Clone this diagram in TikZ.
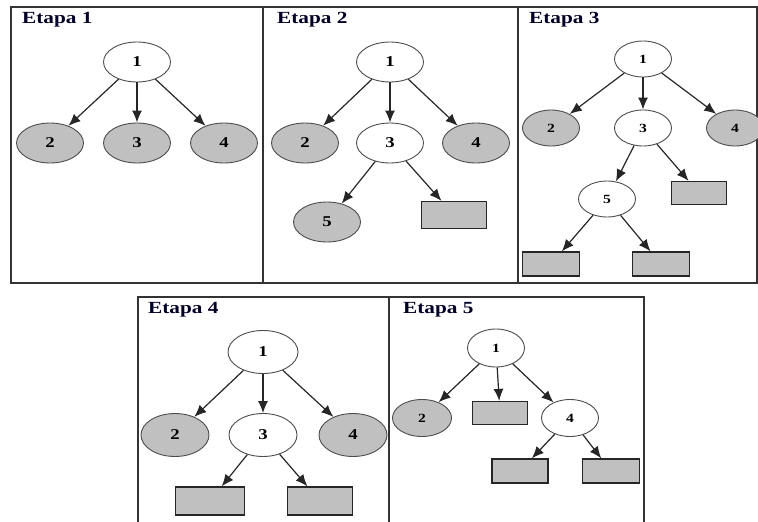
\documentclass[tikz,border=0pt]{standalone}
\usepackage{fontspec}
\usepackage{graphicx}
\setmainfont{Liberation Serif}
\usetikzlibrary{shapes.geometric,arrows.meta}

\definecolor{leafgray}{HTML}{C0C0C0}
\definecolor{framegray}{HTML}{333333}

% stretched bold labels
\newcommand\etapalabel[1]{\fontsize{17}{17}\selectfont\bfseries\scalebox{1.25}[1]{#1}}
\newcommand\stnumbig[1]{\fontsize{15}{15}\selectfont\bfseries\scalebox{1.25}[1]{#1}}
\newcommand\stnumsmall[1]{\fontsize{12.5}{12.5}\selectfont\bfseries\scalebox{1.25}[1]{#1}}

\tikzset{
  panelline/.style={draw=framegray, line width=1.4pt},
  title/.style={anchor=west, inner sep=0pt, text=black!85!blue},
  state/.style={ellipse, draw=black!70, line width=0.9pt, inner sep=0pt, fill=white},
  closed/.style={state, fill=leafgray},
  bigst/.style={minimum width=67pt, minimum height=40pt},
  smallst/.style={minimum width=57pt, minimum height=36pt},
  leaf/.style={rectangle, draw=black!85, line width=1.2pt, fill=leafgray, inner sep=0pt},
  edge/.style={-{Latex[length=12pt,width=10pt]}, line width=1.2pt, draw=black!85},
}

\begin{document}
\begin{tikzpicture}[x=1pt, y=-1pt]
\useasboundingbox (0,0) rectangle (758,522);

% ---------- frames ----------
\draw[panelline] (11,7) rectangle (757,283);
\draw[panelline] (263,7) -- (263,283);
\draw[panelline] (518,7) -- (518,283);
\draw[panelline] (138,522) -- (138,297) -- (644,297) -- (644,522);
\draw[panelline] (389,297) -- (389,522);

% ---------- Etapa 1 ----------
\node[title] (t1) at (22,20) {\etapalabel{Etapa 1}};
\node[state, bigst]  (a1) at (137,62)  {\stnumbig{1}};
\node[closed, bigst] (a2) at (50,143)  {\stnumbig{2}};
\node[closed, bigst] (a3) at (137,143) {\stnumbig{3}};
\node[closed, bigst] (a4) at (224,143) {\stnumbig{4}};
\draw[edge] (a1) -- (a2);
\draw[edge] (a1) -- (a3);
\draw[edge] (a1) -- (a4);

% ---------- Etapa 2 ----------
\node[title] (t2) at (277,20) {\etapalabel{Etapa 2}};
\node[state, bigst]  (b1) at (390,62)  {\stnumbig{1}};
\node[closed, bigst] (b2) at (305,143) {\stnumbig{2}};
\node[state, bigst]  (b3) at (390,143) {\stnumbig{3}};
\node[closed, bigst] (b4) at (476,143) {\stnumbig{4}};
\node[closed, bigst] (b5) at (327,222) {\stnumbig{5}};
\node[leaf, minimum width=65pt, minimum height=27pt] (b6) at (454,215) {};
\draw[edge] (b1) -- (b2);
\draw[edge] (b1) -- (b3);
\draw[edge] (b1) -- (b4);
\draw[edge] (b3) -- (b5);
\draw[edge] (b3) -- (b6);

% ---------- Etapa 3 ----------
\node[title] (t3) at (529,20) {\etapalabel{Etapa 3}};
\node[state, smallst]  (c1) at (643,59)  {\stnumsmall{1}};
\node[closed, smallst] (c2) at (551,128) {\stnumsmall{2}};
\node[state, smallst]  (c3) at (643,128) {\stnumsmall{3}};
\node[closed, smallst] (c4) at (735,128) {\stnumsmall{4}};
\node[state, smallst]  (c5) at (607,199) {\stnumsmall{5}};
\node[leaf, minimum width=55pt, minimum height=23pt] (c6) at (699,193) {};
\node[leaf, minimum width=57pt, minimum height=24pt] (c7) at (551,264) {};
\node[leaf, minimum width=57pt, minimum height=24pt] (c8) at (661,264) {};
\draw[edge] (c1) -- (c2);
\draw[edge] (c1) -- (c3);
\draw[edge] (c1) -- (c4);
\draw[edge] (c3) -- (c5);
\draw[edge] (c3) -- (c6);
\draw[edge] (c5) -- (c7);
\draw[edge] (c5) -- (c8);

% ---------- Etapa 4 ----------
\node[title] (t4) at (148,310) {\etapalabel{Etapa 4}};
\node[state, bigst, minimum width=70pt, minimum height=43pt]  (d1) at (263,352) {\stnumbig{1}};
\node[closed, bigst, minimum width=68pt, minimum height=43pt] (d2) at (175,435) {\stnumbig{2}};
\node[state, bigst, minimum width=68pt, minimum height=43pt]  (d3) at (263,435) {\stnumbig{3}};
\node[closed, bigst, minimum width=68pt, minimum height=43pt] (d4) at (353,435) {\stnumbig{4}};
\node[leaf, minimum width=69pt, minimum height=28pt] (d5) at (210,501) {};
\node[leaf, minimum width=65pt, minimum height=28pt] (d6) at (320,501) {};
\draw[edge] (d1) -- (d2);
\draw[edge] (d1) -- (d3);
\draw[edge] (d1) -- (d4);
\draw[edge] (d3) -- (d5);
\draw[edge] (d3) -- (d6);

% ---------- Etapa 5 ----------
\node[title] (t5) at (403,310) {\etapalabel{Etapa 5}};
\node[state, smallst, minimum height=38pt]  (e1) at (496,348) {\stnumsmall{1}};
\node[closed, smallst, minimum width=59pt, minimum height=37pt] (e2) at (422,418) {\stnumsmall{2}};
\node[leaf, minimum width=55pt, minimum height=23pt] (e3) at (500,413) {};
\node[state, smallst, minimum height=37pt]  (e4) at (570,418) {\stnumsmall{4}};
\node[leaf, minimum width=56pt, minimum height=24pt] (e5) at (520,471) {};
\node[leaf, minimum width=57pt, minimum height=24pt] (e6) at (611,471) {};
\draw[edge] (e1) -- (e2);
\draw[edge] (e1) -- (e3);
\draw[edge] (e1) -- (e4);
\draw[edge] (e4) -- (e5);
\draw[edge] (e4) -- (e6);
\end{tikzpicture}
\end{document}
